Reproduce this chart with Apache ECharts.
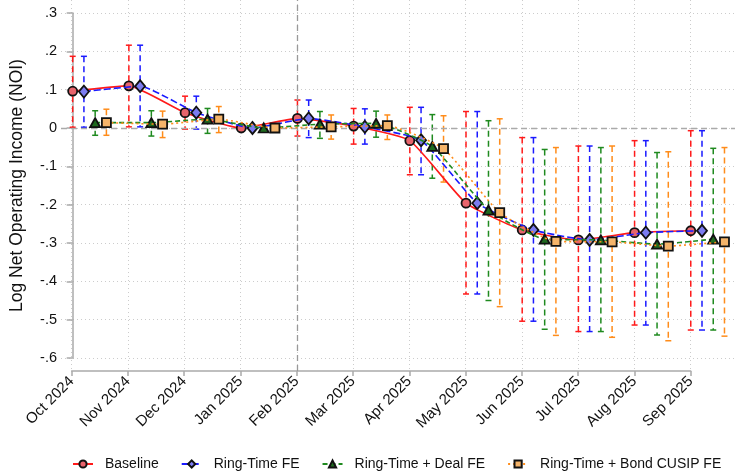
<!DOCTYPE html>
<html><head><meta charset="utf-8">
<script src="https://cdn.jsdelivr.net/npm/echarts@6/dist/echarts.min.js"></script>
<style>html,body{margin:0;padding:0;background:#fff}#c{width:735px;height:473px}</style>
</head><body><div id="c"></div>
<script>
const months = ['Oct 2024','Nov 2024','Dec 2024','Jan 2025','Feb 2025','Mar 2025','Apr 2025','May 2025','Jun 2025','Jul 2025','Aug 2025','Sep 2025'];
const yTicks = [-0.6,-0.5,-0.4,-0.3,-0.2,-0.1,0,0.1,0.2,0.3];
const seriesNames = ['Baseline','Ring-Time FE','Ring-Time + Deal FE','Ring-Time + Bond CUSIP FE'];

const baseline   = [0.096, 0.110, 0.040, 0, 0.025, 0.005, -0.033, -0.196, -0.266, -0.292, -0.273, -0.268];
const baselineLo = [0.002, 0.003, -0.003, null, -0.021, -0.042, -0.122, -0.433, -0.504, -0.531, -0.514, -0.527];
const baselineHi = [0.187, 0.216, 0.083, null, 0.073, 0.051, 0.054, 0.043, -0.025, -0.047, -0.033, -0.007];

const ringTime   = [0.095, 0.109, 0.040, 0, 0.025, 0.003, -0.032, -0.196, -0.266, -0.292, -0.273, -0.268];
const ringLo     = [0.002, 0.003, -0.003, null, -0.025, -0.042, -0.122, -0.433, -0.504, -0.531, -0.514, -0.527];
const ringHi     = [0.187, 0.216, 0.083, null, 0.073, 0.050, 0.054, 0.043, -0.025, -0.047, -0.033, -0.007];

const dealFE     = [0.014, 0.014, 0.023, 0, 0.010, 0.012, -0.048, -0.214, -0.290, -0.292, -0.303, -0.290];
const dealLo     = [-0.019, -0.021, -0.014, null, -0.027, -0.024, -0.131, -0.450, -0.525, -0.531, -0.540, -0.527];
const dealHi     = [0.045, 0.045, 0.051, null, 0.043, 0.044, 0.035, 0.019, -0.056, -0.051, -0.064, -0.053];

const bondFE     = [0.014, 0.010, 0.023, 0, 0.003, 0.006, -0.054, -0.221, -0.296, -0.297, -0.308, -0.297];
const bondLo     = [-0.019, -0.025, -0.012, null, -0.029, -0.030, -0.141, -0.466, -0.541, -0.546, -0.555, -0.543];
const bondHi     = [0.049, 0.044, 0.056, null, 0.034, 0.034, 0.032, 0.024, -0.051, -0.047, -0.062, -0.051];

const FONT = 'Liberation Sans, Arial, Helvetica, sans-serif';
const values = [baseline, ringTime, dealFE, bondFE];
const los = [baselineLo, ringLo, dealLo, bondLo];
const his = [baselineHi, ringHi, dealHi, bondHi];
const lineColors = ['#ff1a1a', '#1a1aff', '#1f8a1f', '#ff8c1a'];
const fillColors = ['#e8646c', '#7c7cf0', '#1f6a1f', '#f5b46a'];
const symbols = ['circle', 'diamond', 'triangle', 'rect'];
const symSizes = [9, [10, 12], [10, 9], 9];
const lineTypes = ['solid', [7, 3], [5, 3], [2, 3]];
const OFF = 0.2;

// pixel layout
const axL = 60, xTick0 = 71.7, xTickN = 690.7, W = 735;
const pxPerMonth = (xTickN - xTick0) / 11;
const xMinA = -(xTick0 - axL) / pxPerMonth;
const xMaxA = 11 + (W - xTickN) / pxPerMonth;

const series = [];
// error bars
values.forEach((v, s) => {
  const d = [];
  v.forEach((_, i) => { if (los[s][i] != null) d.push([i + s * OFF, los[s][i], his[s][i]]); });
  series.push({
    type: 'custom', xAxisIndex: 0, yAxisIndex: 0, z: 2, silent: true,
    renderItem: function (params, api) {
      const x = api.value(0), lo = api.value(1), hi = api.value(2);
      const p1 = api.coord([x, hi]), p2 = api.coord([x, lo]);
      const c = lineColors[s];
      return { type: 'group', children: [
        { type: 'line', shape: { x1: p1[0], y1: p1[1], x2: p2[0], y2: p2[1] }, style: { stroke: c, lineWidth: 1.5, lineDash: [6, 4] } },
        { type: 'line', shape: { x1: p1[0] - 3, y1: p1[1], x2: p1[0] + 3, y2: p1[1] }, style: { stroke: c, lineWidth: 1.5 } },
        { type: 'line', shape: { x1: p2[0] - 3, y1: p2[1], x2: p2[0] + 3, y2: p2[1] }, style: { stroke: c, lineWidth: 1.5 } }
      ] };
    },
    data: d
  });
});
// lines
values.forEach((v, s) => {
  series.push({
    name: seriesNames[s], type: 'line', xAxisIndex: 0, yAxisIndex: 0, z: 5 + s,
    data: v.map((y, i) => [i + s * OFF, y]),
    smooth: 0.15,
    symbol: symbols[s], symbolSize: symSizes[s],
    lineStyle: { color: lineColors[s], width: 1.6, type: lineTypes[s] },
    itemStyle: { color: fillColors[s], borderColor: '#111', borderWidth: 1.8 },
    emphasis: { disabled: true },
    markLine: s === 0 ? {
      silent: true, symbol: 'none', label: { show: false },
      lineStyle: { color: '#aaa', type: [6, 4], width: 1.3 },
      data: [{ yAxis: 0 }]
    } : undefined
  });
});
// helper series on grid B for Feb reference line
series.push({
  type: 'line', xAxisIndex: 1, yAxisIndex: 1, data: [], symbol: 'none',
  markLine: {
    silent: true, symbol: 'none', label: { show: false },
    lineStyle: { color: '#999', type: [6, 4], width: 1.3 },
    data: [{ xAxis: 4 }]
  }
});

const chart = echarts.init(document.getElementById('c'), null, { renderer: 'canvas' });
chart.setOption({
  animation: false,
  backgroundColor: '#fff',
  textStyle: { fontFamily: FONT },
  grid: [
    { left: axL, right: 0, top: 13, bottom: 115 },
    { left: xTick0, right: W - xTickN, top: 0, bottom: 102 }
  ],
  xAxis: [
    { gridIndex: 0, type: 'value', min: xMinA, max: xMaxA, show: false },
    { gridIndex: 1, type: 'value', min: 0, max: 11, interval: 1,
      axisLine: { show: true, lineStyle: { color: '#aaa', width: 1.5 } },
      axisTick: { show: true, length: 5, lineStyle: { color: '#aaa', width: 1.5 } },
      splitLine: { show: true, lineStyle: { color: '#ccc', type: [1, 3], width: 1 } },
      axisLabel: { rotate: 45, margin: 8, fontSize: 15, color: '#111', fontFamily: FONT,
        formatter: v => months[Math.round(v)] || '' } }
  ],
  yAxis: [
    { gridIndex: 0, type: 'value', min: -0.6, max: 0.3, interval: 0.1,
      name: 'Log Net Operating Income (NOI)', nameLocation: 'middle', nameGap: 35,
      nameTextStyle: { fontSize: 17.5, color: '#111', fontFamily: FONT },
      axisLine: { show: true, lineStyle: { color: '#aaa', width: 1.5 } },
      axisTick: { show: true, length: 6, lineStyle: { color: '#aaa', width: 1.5 } },
      splitLine: { show: true, lineStyle: { color: '#ccc', type: [1, 3], width: 1 } },
      axisLabel: { fontSize: 14.5, margin: 4, color: '#111', fontFamily: FONT,
        formatter: v => { const r = Math.round(v * 10) / 10; if (r === 0) return '0'; return (r < 0 ? '-' : '') + String(Math.abs(r)).replace(/^0/, ''); } } },
    { gridIndex: 1, type: 'value', min: 0, max: 1, show: false }
  ],
  legend: {
    data: seriesNames, bottom: -3, left: 72, right: 0, itemGap: 22, itemWidth: 20, itemHeight: 9,
    padding: [5, 0, 5, 0],
    textStyle: { fontSize: 14, color: '#111', fontFamily: FONT, padding: [0, 0, 0, 7] },
    selectedMode: false
  },
  series: series
});
</script></body></html>
